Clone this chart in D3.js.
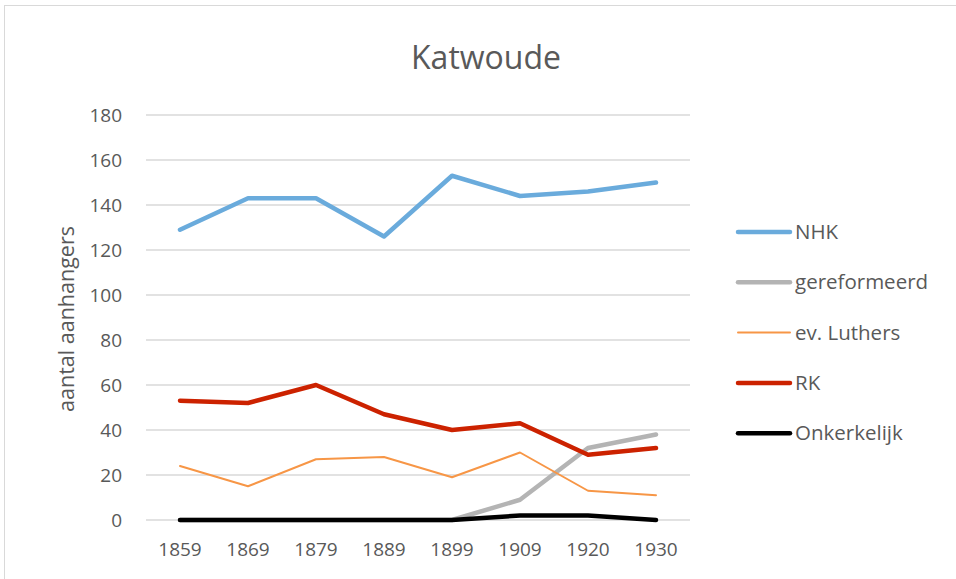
<!DOCTYPE html>
<html><head><meta charset="utf-8">
<script src="https://cdn.jsdelivr.net/npm/d3@7"></script>
<style>body{margin:0;background:#fff;}svg{display:block;}</style>
</head><body>
<script>
const years = ["1859","1869","1879","1889","1899","1909","1920","1930"];
const nhk = [129,143,143,126,153,144,146,150];
const gereformeerd = [0,0,0,0,0,9,32,38];
const luthers = [24,15,27,28,19,30,13,11];
const rk = [53,52,60,47,40,43,29,32];
const onkerkelijk = [0,0,0,0,0,2,2,0];
const yTicks = [0,20,40,60,80,100,120,140,160,180];
const seriesNames = ["NHK","gereformeerd","ev. Luthers","RK","Onkerkelijk"];
const seriesColors = ["#6aabdc","#b4b4b4","#f79646","#cc2200","#000000"];
const seriesWidths = [4.5,4.5,2,4.5,4.5];
const seriesData = [nhk,gereformeerd,luthers,rk,onkerkelijk];
const drawOrder = [0,1,2,3,4];

const W=956,H=579;
const svg=d3.select("body").append("svg").attr("width",W).attr("height",H);
svg.append("rect").attr("x",4.5).attr("y",5.5).attr("width",W+10).attr("height",H+10)
  .attr("fill","#fff").attr("stroke","#d9d9d9").attr("stroke-width",1);

const font="'Open Sans', 'Liberation Sans', sans-serif";
const x=d3.scaleBand().domain(years).range([146,690]);
const y=d3.scaleLinear().domain([0,180]).range([520,115]);

svg.append("text").attr("x",486).attr("y",69).attr("text-anchor","middle")
  .attr("font-family",font).attr("font-size",32).attr("fill","#595959").text("Katwoude");

// gridlines
svg.append("g").selectAll("line").data(yTicks).join("line")
  .attr("x1",146).attr("x2",690).attr("y1",d=>y(d)).attr("y2",d=>y(d))
  .attr("stroke","#d9d9d9").attr("stroke-width",1.3);

// y axis labels
const ya=svg.append("g").attr("transform","translate(146,0)")
  .call(d3.axisLeft(y).tickValues(yTicks).tickSize(0).tickPadding(24));
ya.select(".domain").remove();
ya.selectAll("text").attr("font-family",font).attr("font-size",19).attr("fill","#595959");

// x axis labels
const xa=svg.append("g").attr("transform","translate(0,520)")
  .call(d3.axisBottom(x).tickSize(0).tickPadding(23));
xa.select(".domain").remove();
xa.selectAll("text").attr("font-family",font).attr("font-size",19).attr("fill","#595959");

svg.append("text").attr("transform","translate(74,319) rotate(-90)").attr("text-anchor","middle")
  .attr("font-family",font).attr("font-size",21.5).attr("fill","#595959").text("aantal aanhangers");

const line=d3.line().x((d,i)=>x(years[i])+x.bandwidth()/2).y(d=>y(d));
drawOrder.forEach(k=>{
  svg.append("path").datum(seriesData[k]).attr("d",line).attr("fill","none")
    .attr("stroke",seriesColors[k]).attr("stroke-width",seriesWidths[k])
    .attr("stroke-linecap","round").attr("stroke-linejoin","round");
});

// legend
const lg=svg.append("g");
seriesNames.forEach((n,i)=>{
  const yy=232+i*50.3;
  lg.append("line").attr("x1",738).attr("x2",790).attr("y1",yy).attr("y2",yy)
    .attr("stroke",seriesColors[i]).attr("stroke-width",seriesWidths[i]).attr("stroke-linecap","round");
  lg.append("text").attr("x",795).attr("y",yy+7).attr("font-family",font).attr("font-size",20.5)
    .attr("fill","#595959").text(n);
});
</script>
</body></html>
